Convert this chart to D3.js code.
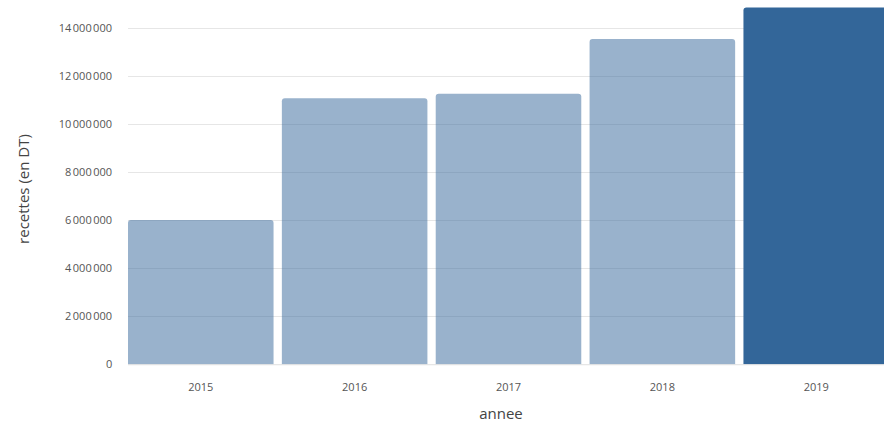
<!DOCTYPE html>
<html><head><meta charset="utf-8">
<script src="https://cdn.jsdelivr.net/npm/d3@7"></script>
<style>
html,body{margin:0;padding:0;background:#fff;overflow:hidden;}
svg{display:block;font-family:"Open Sans",sans-serif;}
</style></head>
<body>
<svg id="chart" width="884" height="427"></svg>
<script>
const categories = ["2015","2016","2017","2018","2019"];
const values = [6000000, 11060000, 11250000, 13530000, 14840000];
const highlighted = ["2019"];
const yTicks = [0, 2000000, 4000000, 6000000, 8000000, 10000000, 12000000, 14000000];

const svg = d3.select("#chart");
const x = d3.scaleBand().domain(categories).range([128, 889]).paddingInner(0.054).paddingOuter(0);
const y = d3.scaleLinear().domain([0, 15150000]).range([364.3, 0]);

const loc = d3.formatLocale({decimal: ",", thousands: "\u202f", grouping: [3], currency: ["", ""]});
const fmt = loc.format(",d");

// gridlines
svg.append("g").selectAll("line").data(yTicks).join("line")
  .attr("x1", 128).attr("x2", 884)
  .attr("y1", d => Math.round(y(d)) + 0.5).attr("y2", d => Math.round(y(d)) + 0.5)
  .attr("stroke", "#e6e6e6").attr("stroke-width", 1);

// y axis labels
const yAxis = d3.axisLeft(y).tickValues(yTicks).tickFormat(fmt).tickSize(0).tickPadding(0);
const gy = svg.append("g").attr("transform", "translate(112,0)").call(yAxis);
gy.select(".domain").remove();
gy.selectAll("text").attr("font-size", 11).attr("fill", "#555").attr("font-family", "Open Sans, sans-serif").attr("letter-spacing", "-0.3");

// bars
const r = 3;
function barPath(x0, w, yt, yb) {
  return `M${x0},${yb}V${yt + r}Q${x0},${yt} ${x0 + r},${yt}H${x0 + w - r}Q${x0 + w},${yt} ${x0 + w},${yt + r}V${yb}Z`;
}
svg.append("g").selectAll("path").data(categories).join("path")
  .attr("d", (c, i) => barPath(x(c), x.bandwidth(), y(values[i]), y(0)))
  .attr("fill", c => highlighted.includes(c) ? "#336699" : "rgba(51,102,153,0.5)");

// x axis
const xAxis = d3.axisBottom(x).tickSize(0).tickPadding(19);
const gx = svg.append("g").attr("transform", `translate(0,${y(0)})`).call(xAxis);
gx.select(".domain").attr("stroke", "#e6e6e6").attr("d", "M128,0.5H884");
gx.selectAll("text").attr("font-size", 11).attr("fill", "#555").attr("font-family", "Open Sans, sans-serif");

// titles
svg.append("text").attr("x", 501).attr("y", 419).attr("text-anchor", "middle")
  .attr("font-size", 15).attr("fill", "#444").text("annee");
svg.append("text").attr("transform", "translate(29,189) rotate(-90)").attr("text-anchor", "middle")
  .attr("font-size", 15).attr("fill", "#444").text("recettes (en DT)");
</script>
</body></html>
